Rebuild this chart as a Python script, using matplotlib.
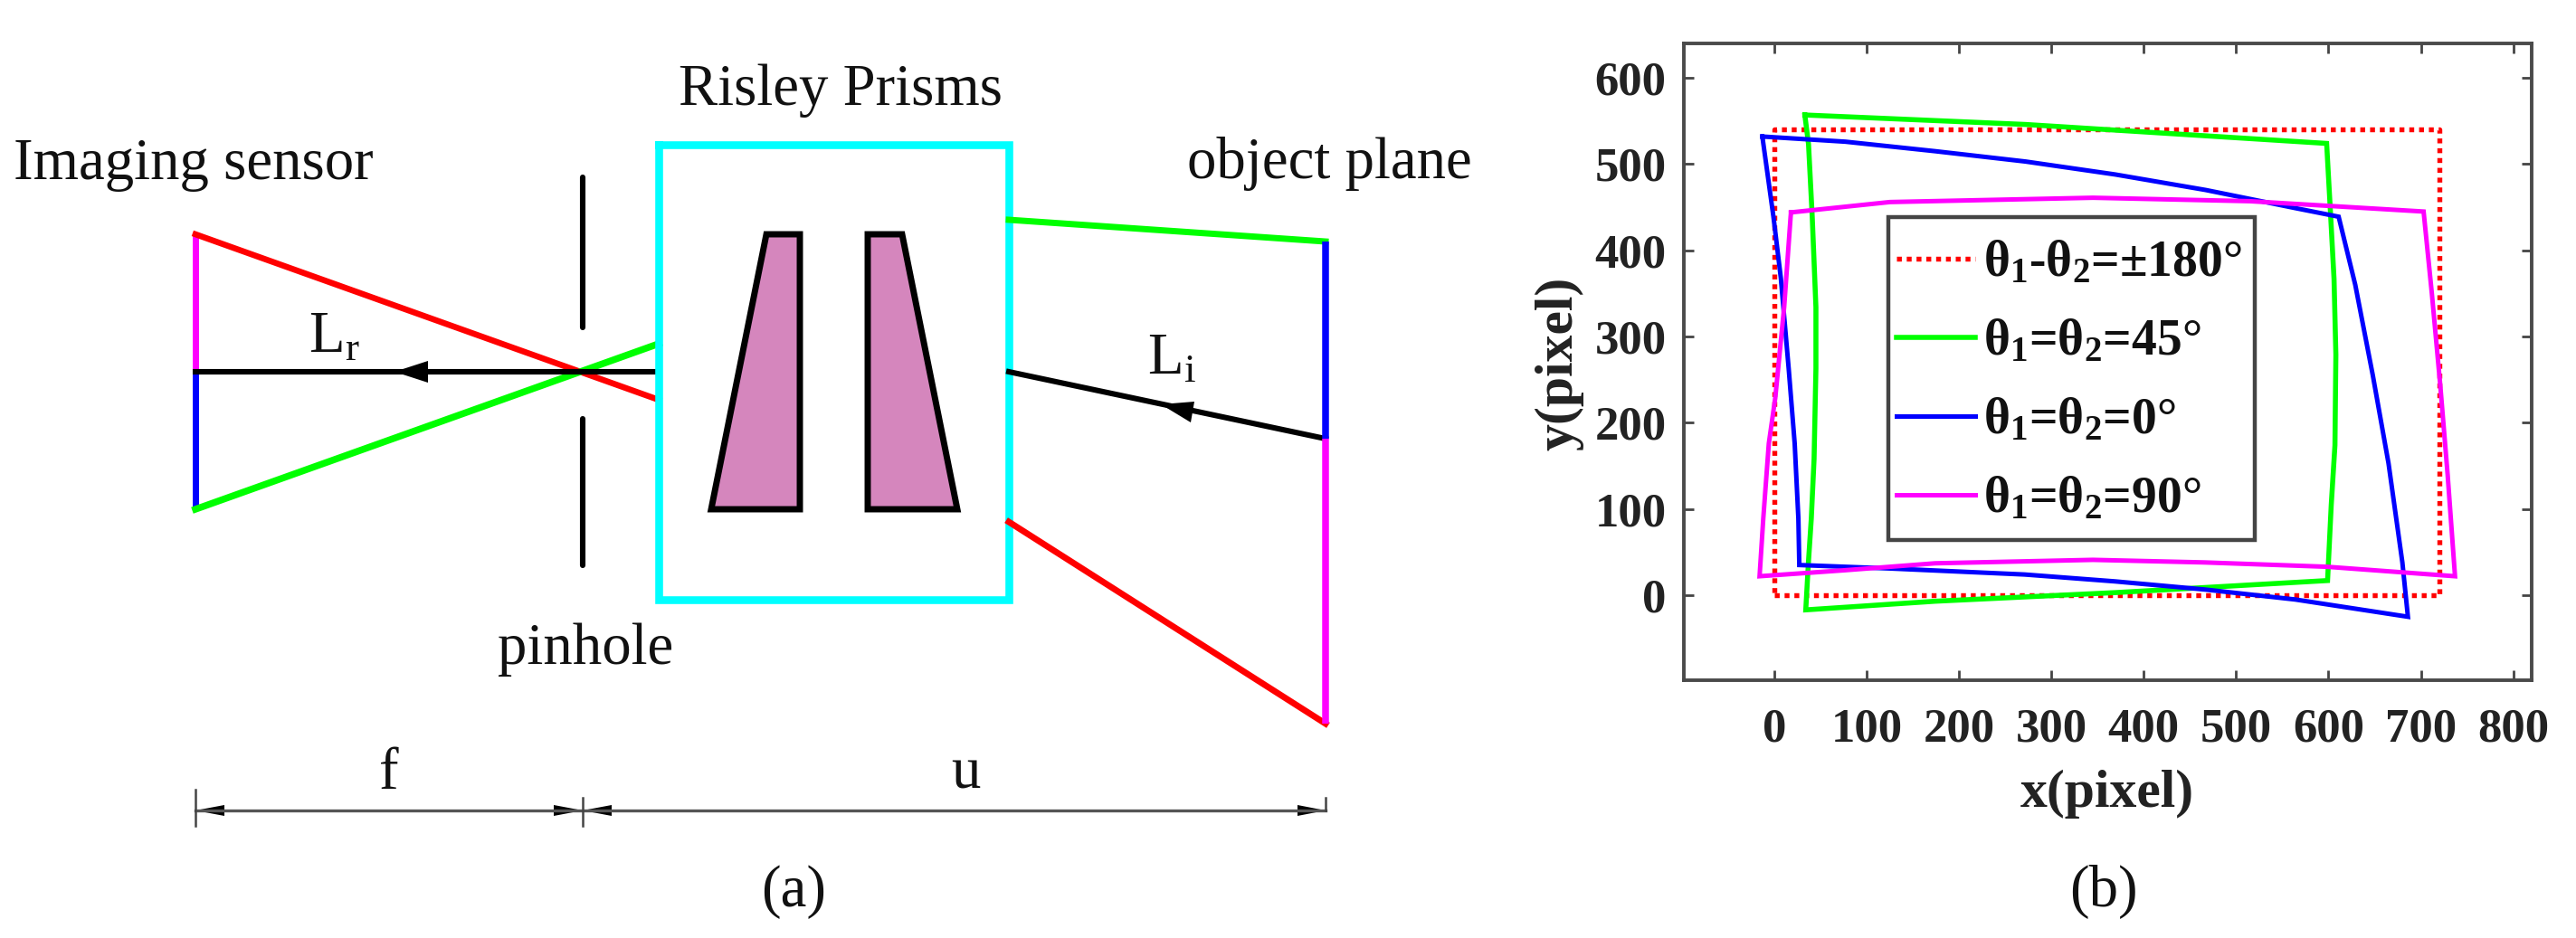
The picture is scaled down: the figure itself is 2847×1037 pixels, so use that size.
import matplotlib
matplotlib.use("Agg")
import matplotlib.pyplot as plt
from matplotlib.patches import Rectangle

plt.rcParams['font.family'] = ['Liberation Serif', 'DejaVu Serif']
plt.rcParams['mathtext.default'] = 'regular'

W, H = 2847, 1037

# panel (b)
red_x = [0, 720, 720, 0, 0]
red_y = [0, 0, 540, 540, 0]

green_x = [33, 272, 598, 602, 606, 608, 607, 603, 599, 369, 174, 34, 37, 40, 43, 45, 45, 41, 37, 33]
green_y = [557, 546, 524, 447, 367, 279, 174, 105, 17, 3, -7, -17, 40, 89, 158, 263, 334, 439, 523, 557]

blue_x = [-13, 77, 174, 272, 369, 467, 564, 611, 629, 648, 665, 680, 686,
          564, 467, 369, 271, 125, 27, 26, 22, 15.5, 7, -1, -13]
blue_y = [532, 526, 515, 503, 488, 470, 449, 439, 360, 255, 153, 38, -25,
          -5, 6.5, 16, 24, 31, 35, 89, 176, 263, 368, 439, 532]

magenta_x = [18, 125, 345, 515, 703, 712, 721, 729, 737, 598, 466, 345, 174, 77, -16,
             -12, -6, 1, 10.6, 17.6, 18]
magenta_y = [444, 456, 461, 457, 445, 349, 244, 140, 22, 33, 38, 41, 37, 29, 22,
             89, 176, 229, 334, 439, 444]

legend_labels = [
    'θ$_{1}$-θ$_{2}$=±180°',
    'θ$_{1}$=θ$_{2}$=45°',
    'θ$_{1}$=θ$_{2}$=0°',
    'θ$_{1}$=θ$_{2}$=90°',
]
xticks = [0, 100, 200, 300, 400, 500, 600, 700, 800]
yticks = [0, 100, 200, 300, 400, 500, 600]

# panel (a) schematic, in image pixels
sensor_x = 216
sensor_ys = [259, 411, 563]
object_x = 1465
object_ys = [267, 485, 800]
pinhole_x = 644
pinhole_upper = [196, 362]
pinhole_lower = [463, 625]
box_x = [728, 1115, 1115, 728, 728]
box_y = [160, 160, 663, 663, 160]
prism_left_x = [786, 847, 884, 884]
prism_right_x = [959, 997, 1058, 959]
prism_y = [563, 259, 259, 563]
prism_right_y = [259, 259, 563, 563]
green_in = [1115, 243]
red_in = [1115, 577]
black_in = [1115, 411]
green_out_y = 380
red_out_y = 442
box_left = 728
dim_y = 896

# axes and legend box of panel (b), in image pixels
ax_l, ax_r, ax_t, ax_b = 1861, 2798, 48, 752
leg_l, leg_r, leg_t, leg_b = 2087, 2492, 240, 597


def fx(x):
    return (x - ax_l) / (ax_r - ax_l)


def fy(y):
    return (ax_b - y) / (ax_b - ax_t)


fig = plt.figure(figsize=(W / 100, H / 100), dpi=100)

# left schematic
sk = fig.add_axes([0, 0, 1, 1])
sk.set_xlim(0, W)
sk.set_ylim(H, 0)
sk.axis('off')

sk.plot([sensor_x, sensor_x], sensor_ys[:2], color='#ff00ff', lw=5, solid_capstyle='butt')
sk.plot([sensor_x, sensor_x], sensor_ys[1:], color='#0000ff', lw=5, solid_capstyle='butt')
sk.plot([sensor_x, box_left], [sensor_ys[0], red_out_y], color='#ff0000', lw=4.8)
sk.plot([sensor_x, box_left], [sensor_ys[2], green_out_y], color='#00ff00', lw=5.4)
sk.plot([sensor_x, box_left], [sensor_ys[1], sensor_ys[1]], color='black', lw=4.4)
sk.plot([pinhole_x, pinhole_x], pinhole_upper, color='black', lw=4.4, solid_capstyle='round')
sk.plot([pinhole_x, pinhole_x], pinhole_lower, color='black', lw=4.4, solid_capstyle='round')

sk.plot(box_x, box_y, color='#00ffff', lw=6.2, solid_joinstyle='miter')
sk.fill(prism_left_x, prism_y, facecolor='#d586bd', edgecolor='black', lw=5, joinstyle='miter')
sk.fill(prism_right_x, prism_right_y, facecolor='#d586bd', edgecolor='black', lw=5, joinstyle='miter')

sk.plot([green_in[0], object_x], [green_in[1], object_ys[0]], color='#00ff00', lw=5)
sk.plot([red_in[0], object_x], [red_in[1], object_ys[2]], color='#ff0000', lw=5)
sk.plot([black_in[0], object_x], [black_in[1], object_ys[1]], color='black', lw=4.4)
sk.plot([object_x, object_x], object_ys[:2], color='#0000ff', lw=5.4, solid_capstyle='butt')
sk.plot([object_x, object_x], object_ys[1:], color='#ff00ff', lw=5.4, solid_capstyle='butt')

# ray arrows
sk.fill([436, 473, 473], [411, 399, 423], color='black', lw=0)
sk.fill([1283, 1320, 1316], [447, 444, 467], color='black', lw=0)

# dimension lines
sk.plot([sensor_x, object_x], [dim_y, dim_y], color='#555555', lw=2.4)
sk.plot([sensor_x, sensor_x], [873, 913], color='#444444', lw=1.8)
sk.plot([pinhole_x, pinhole_x], [882, 913], color='#444444', lw=1.8)
sk.plot([object_x, object_x], [882, dim_y], color='#444444', lw=1.8)
for tip, base in [(sensor_x, 248), (pinhole_x, 612), (pinhole_x, 676), (object_x, 1434)]:
    sk.fill([tip, base, base], [dim_y, dim_y - 6, dim_y + 6], color='black', lw=0)

fs = 46.6
sk.text(15, 198, 'Imaging sensor', fontsize=fs, va='baseline', color='#111111')
sk.text(750, 116, 'Risley Prisms', fontsize=fs, va='baseline', color='#111111')
sk.text(1312, 197, 'object plane', fontsize=fs, va='baseline', color='#111111')
sk.text(550, 734, 'pinhole', fontsize=fs, va='baseline', color='#111111')
sk.text(430, 872, 'f', fontsize=fs, va='baseline', ha='center', color='#111111')
sk.text(1067, 872, 'u', fontsize=fs, va='baseline', ha='center', color='#111111')
sk.text(341, 389, 'L$_{r}$', fontsize=fs, va='baseline', color='#111111')
sk.text(1268, 413, 'L$_{i}$', fontsize=fs, va='baseline', color='#111111')
sk.text(877, 1002, '(a)', fontsize=fs, va='baseline', ha='center', color='#111111')
sk.text(2325, 1002, '(b)', fontsize=fs, va='baseline', ha='center', color='#111111')

# right plot
ax = fig.add_axes([ax_l / W, 1 - ax_b / H, (ax_r - ax_l) / W, (ax_b - ax_t) / H])
ax.patch.set_alpha(0)
ax.plot(red_x, red_y, color='#ff0000', lw=3.9, ls=(0, (1, 1)), label=legend_labels[0])
ax.plot(green_x, green_y, color='#00ff00', lw=4, label=legend_labels[1], solid_joinstyle='miter')
ax.plot(blue_x, blue_y, color='#0000ff', lw=3.6, label=legend_labels[2], solid_joinstyle='miter')
ax.plot(magenta_x, magenta_y, color='#ff00ff', lw=3.6, label=legend_labels[3], solid_joinstyle='miter')

ax.set_xlim(-98, 820)
ax.set_ylim(-98.6, 640)
ax.set_xticks(xticks)
ax.set_yticks(yticks)
ax.tick_params(direction='in', top=True, right=True, length=8, width=2, color='#444444')
ax.tick_params(axis='x', pad=22)
ax.tick_params(axis='y', pad=14)
for lab in ax.get_xticklabels() + ax.get_yticklabels():
    lab.set_fontsize(38)
    lab.set_fontweight('bold')
    lab.set_color('#222222')
for s in ax.spines.values():
    s.set_linewidth(2.8)
    s.set_color('#4a4a4a')

ax.set_xlabel('x(pixel)', fontsize=43, fontweight='bold', color='#222222', va='baseline')
ax.xaxis.set_label_coords(fx(2329), fy(892))
ax.set_ylabel('y(pixel)', fontsize=43, fontweight='bold', color='#222222', va='center')
ax.yaxis.set_label_coords(fx(1723), fy(402))

# legend frame drawn apart, the padding differs per direction
ax.add_patch(Rectangle((fx(leg_l), fy(leg_b)), fx(leg_r) - fx(leg_l), fy(leg_t) - fy(leg_b),
                       transform=ax.transAxes, facecolor='white', edgecolor='#444444',
                       lw=3.2, zorder=4))
leg = ax.legend(loc='upper left', bbox_to_anchor=(fx(2096), fy(265)),
                prop={'family': 'Liberation Serif', 'weight': 'bold', 'size': 40},
                handlelength=1.57, handletextpad=0.15, labelspacing=0.63,
                borderpad=0, borderaxespad=0, frameon=False)
for t in leg.get_texts():
    t.set_color('#111111')

fig.savefig('out.png', dpi=100)
